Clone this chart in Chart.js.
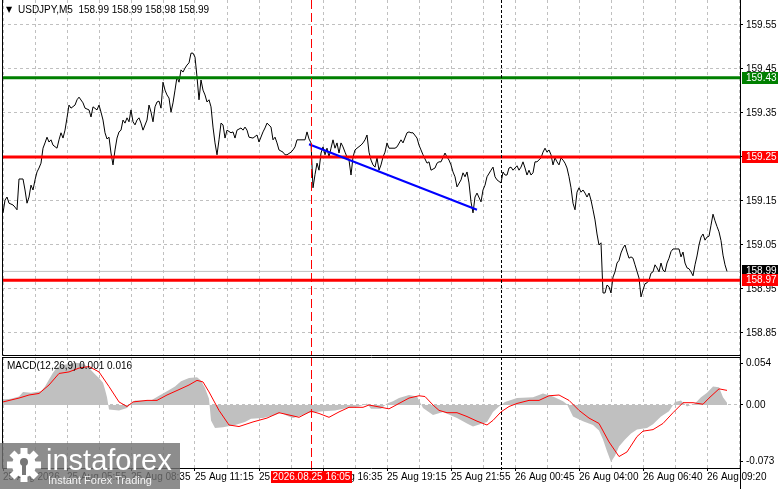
<!DOCTYPE html>
<html>
<head>
<meta charset="utf-8">
<script src="https://cdn.jsdelivr.net/npm/chart.js@4.4.1/dist/chart.umd.min.js"></script>
<style>
html, body { margin: 0; padding: 0; background: #fff; }
#wrap { position: relative; width: 781px; height: 489px; overflow: hidden; background: #fff;
  font-family: "Liberation Sans", Arial, sans-serif; }
#priceBox { position: absolute; left: 0; top: 0; width: 781px; height: 357px; }
#macdBox { position: absolute; left: 0; top: 357px; width: 781px; height: 132px; }
.lbl { position: absolute; font-size: 10px; line-height: 12px; color: #000; white-space: pre; }
#tri { left: 6px; top: 4px; font-size: 8px; font-family: "DejaVu Sans", sans-serif; }
#head { left: 18px; top: 4px; }
#macdLbl { left: 7px; top: 360px; }
#logo { position: absolute; left: 0; top: 443px; width: 180px; height: 46px; background: rgba(112,112,112,0.8); }
#logo svg { position: absolute; left: 6px; top: 4px; }
#logoName { position: absolute; left: 46px; top: 1px; font-size: 29px; line-height: 32px; color: #fff; }
#logoSub { position: absolute; left: 48px; top: 31px; font-size: 11px; line-height: 13px; color: rgba(255,255,255,0.9); }
</style>
</head>
<body>
<div id="wrap">
  <div id="priceBox"><canvas id="priceChart" width="781" height="357"></canvas></div>
  <div id="macdBox"><canvas id="macdChart" width="781" height="132"></canvas></div>
  <div class="lbl" id="tri">▼</div>
  <div class="lbl" id="head">USDJPY,M5  158.99 158.99 158.98 158.99</div>
  <div class="lbl" id="macdLbl">MACD(12,26,9) 0.001 0.016</div>
  <div id="logo">
    <svg width="36" height="36" viewBox="-18 -18 36 36">
      <g fill="#fff">
        <circle r="12"/>
        <rect x="-3.5" y="-17" width="7" height="8"/>
        <rect x="-3.5" y="-17" width="7" height="8" transform="rotate(45)"/>
        <rect x="-3.5" y="-17" width="7" height="8" transform="rotate(90)"/>
        <rect x="-3.5" y="-17" width="7" height="8" transform="rotate(135)"/>
        <rect x="-3.5" y="-17" width="7" height="8" transform="rotate(180)"/>
        <rect x="-3.5" y="-17" width="7" height="8" transform="rotate(225)"/>
        <rect x="-3.5" y="-17" width="7" height="8" transform="rotate(270)"/>
        <rect x="-3.5" y="-17" width="7" height="8" transform="rotate(315)"/>
      </g>
      <circle cy="-3" r="4" fill="#777"/>
      <rect x="-2" y="0" width="4" height="10" fill="#777"/>
    </svg>
    <div id="logoName">instaforex</div>
    <div id="logoSub">Instant Forex Trading</div>
  </div>
</div>
<script>
// time labels every 32 bars (M5, 2px per bar)
const timeLabels = ['25 Aug 2026', '25 Aug 05:55', '25 Aug 08:35', '25 Aug 11:15', '25 Aug 13:55', '25 Aug 16:35',
  '25 Aug 19:15', '25 Aug 21:55', '26 Aug 00:45', '26 Aug 04:00', '26 Aug 06:40', '26 Aug 09:20'];
const gridBars = [0, 16, 32, 48, 64, 80, 96, 112, 128, 144, 160, 176, 192, 208, 224, 240, 256, 272, 288, 304, 320, 336, 352, 368];
const priceTicks = [158.85, 158.95, 159.05, 159.15, 159.25, 159.35, 159.45, 159.55];
const macdTicks = [-0.073, 0, 0.054];
const macdTickLabels = ['-0.073', '0.00', '0.054'];

const greenLevel = 159.43;
const redLevels = [159.25, 158.97];
const lastPrice = 158.99;
const trendLine = [[153, 159.279], [237, 159.130]];
const markerBars = [154, 249];
const markerDate = '2026.08.25 16:05';

// [bar, close]
const closes = [
  [0,159.123],[1,159.152],[2,159.159],[3,159.145],[5,159.141],[6,159.136],[7,159.130],[8,159.200],[10,159.200],
  [11,159.175],[12,159.145],[13,159.159],[14,159.186],[15,159.175],[16,159.198],[17,159.216],[18,159.225],[19,159.236],
  [20,159.270],[21,159.282],[22,159.295],[23,159.284],[24,159.289],[25,159.277],[27,159.270],[28,159.289],[29,159.305],
  [30,159.293],[31,159.311],[32,159.339],[33,159.368],[34,159.361],[36,159.368],[37,159.380],[38,159.386],[40,159.373],
  [41,159.361],[42,159.359],[43,159.357],[44,159.341],[45,159.364],[47,159.357],[48,159.368],[49,159.352],[50,159.334],
  [51,159.305],[52,159.291],[53,159.295],[54,159.259],[55,159.232],[56,159.266],[57,159.293],[58,159.307],[59,159.311],
  [60,159.334],[61,159.327],[62,159.339],[63,159.330],[64,159.357],[65,159.330],[66,159.323],[67,159.334],[68,159.339],
  [69,159.327],[70,159.311],[72,159.334],[73,159.368],[74,159.352],[75,159.330],[76,159.364],[77,159.375],[78,159.377],
  [79,159.361],[80,159.420],[81,159.402],[82,159.391],[83,159.384],[84,159.352],[85,159.373],[86,159.402],[87,159.432],
  [88,159.420],[89,159.448],[90,159.443],[91,159.452],[92,159.459],[93,159.464],[94,159.486],[95,159.486],[96,159.477],
  [97,159.432],[98,159.380],[99,159.425],[100,159.402],[101,159.391],[102,159.375],[103,159.380],[104,159.364],[105,159.318],
  [106,159.282],[107,159.255],[108,159.289],[109,159.327],[110,159.323],[111,159.293],[112,159.311],[114,159.305],[115,159.307],
  [116,159.293],[117,159.311],[119,159.316],[120,159.311],[121,159.318],[122,159.311],[123,159.295],[125,159.293],[127,159.300],
  [128,159.284],[130,159.307],[131,159.316],[132,159.327],[134,159.318],[135,159.289],[136,159.295],[137,159.282],[138,159.266],
  [140,159.261],[141,159.255],[142,159.255],[144,159.261],[145,159.266],[146,159.273],[147,159.289],[149,159.289],[151,159.289],
  [152,159.307],[153,159.291],[154,159.282],[155,159.180],[156,159.210],[157,159.236],[158,159.220],[159,159.259],[160,159.273],
  [161,159.255],[162,159.270],[163,159.250],[164,159.270],[165,159.289],[166,159.270],[167,159.282],[168,159.259],[169,159.282],
  [170,159.273],[171,159.261],[172,159.250],[173,159.243],[174,159.209],[175,159.250],[176,159.266],[177,159.270],[179,159.277],
  [180,159.282],[181,159.289],[182,159.300],[183,159.261],[184,159.243],[185,159.232],[186,159.227],[187,159.248],[188,159.220],
  [189,159.232],[190,159.250],[191,159.261],[192,159.282],[193,159.270],[194,159.270],[196,159.270],[197,159.273],[199,159.289],
  [200,159.282],[202,159.305],[203,159.307],[204,159.305],[205,159.305],[207,159.293],[208,159.277],[209,159.266],[210,159.255],
  [212,159.236],[213,159.239],[214,159.220],[216,159.225],[217,159.236],[218,159.239],[219,159.239],[221,159.259],[222,159.250],
  [223,159.243],[224,159.232],[225,159.216],[226,159.205],[227,159.182],[229,159.198],[230,159.214],[231,159.205],[232,159.216],
  [233,159.191],[234,159.148],[235,159.123],[236,159.159],[237,159.168],[239,159.148],[240,159.175],[241,159.186],[242,159.205],
  [244,159.220],[245,159.227],[246,159.205],[247,159.198],[249,159.191],[250,159.216],[251,159.209],[252,159.209],[253,159.225],
  [254,159.227],[255,159.220],[257,159.230],[258,159.220],[259,159.227],[260,159.239],[261,159.225],[262,159.209],[263,159.220],
  [264,159.209],[265,159.214],[266,159.239],[267,159.239],[269,159.248],[270,159.261],[271,159.270],[272,159.261],[273,159.266],
  [274,159.255],[275,159.232],[276,159.248],[277,159.239],[278,159.232],[279,159.248],[280,159.243],[281,159.236],[282,159.225],
  [283,159.205],[284,159.180],[285,159.145],[286,159.130],[287,159.170],[288,159.180],[289,159.170],[290,159.175],[291,159.168],
  [292,159.159],[293,159.168],[294,159.152],[295,159.130],[296,159.107],[297,159.075],[298,159.050],[299,159.055],[300,158.941],
  [301,158.941],[302,158.959],[303,158.955],[304,158.941],[305,158.977],[306,158.989],[307,159.009],[308,159.015],[309,159.032],
  [310,159.043],[311,159.050],[312,159.034],[313,159.020],[314,159.023],[315,159.020],[316,159.005],[317,158.990],[318,158.975],
  [319,158.932],[320,158.948],[321,158.962],[322,158.964],[323,158.970],[324,158.986],[325,158.989],[326,159.005],[327,158.998],
  [328,158.989],[329,159.009],[330,158.993],[331,158.989],[332,159.009],[333,159.020],[334,159.035],[335,159.041],[336,159.041],
  [337,159.041],[338,159.041],[339,159.023],[340,159.034],[341,159.009],[342,158.998],[343,158.996],[344,158.989],[345,158.980],
  [346,159.005],[347,159.025],[348,159.050],[349,159.068],[350,159.075],[351,159.061],[352,159.068],[353,159.070],[354,159.095],
  [355,159.120],[356,159.105],[357,159.092],[358,159.080],[359,159.060],[360,159.027],[361,159.005],[362,158.990]
];

// MACD histogram, [bar, value]
const macdHist = [
  [0,0.007],[4,0.008],[8,0.011],[10,0.017],[14,0.016],[19,0.018],[21,0.024],[23,0.033],[25,0.042],[27,0.049],
  [30,0.052],[36,0.055],[40,0.054],[43,0.048],[46,0.040],[48,0.035],[50,0.029],[51,0.020],[52,0.010],[53,-0.006],
  [58,-0.007],[62,-0.004],[64,0.002],[66,0.006],[74,0.006],[78,0.012],[82,0.018],[86,0.024],[89,0.031],[93,0.035],
  [97,0.036],[99,0.032],[101,0.022],[103,0.008],[104,-0.020],[106,-0.030],[110,-0.029],[116,-0.026],[121,-0.022],
  [124,-0.018],[130,-0.017],[136,-0.013],[139,-0.010],[142,-0.014],[145,-0.017],[150,-0.013],[153,-0.010],[160,-0.008],
  [166,-0.007],[172,-0.004],[178,-0.002],[182,0.002],[184,-0.005],[189,-0.005],[192,0.002],
  [195,0.005],[198,0.009],[203,0.013],[207,0.011],[210,-0.004],[215,-0.013],[220,-0.009],[227,-0.017],[232,-0.024],
  [235,-0.028],[242,-0.022],[245,-0.009],[248,-0.002],[251,0.004],[257,0.009],[265,0.010],[270,0.015],[275,0.011],
  [280,0.005],[282,0.001],[285,-0.015],[290,-0.021],[295,-0.026],[298,-0.033],[300,-0.045],[302,-0.060],[304,-0.074],
  [306,-0.066],[308,-0.054],[311,-0.045],[314,-0.037],[317,-0.032],[322,-0.030],[325,-0.025],[329,-0.015],[333,-0.008],
  [336,0.004],[339,0.006],[342,-0.002],[346,0.002],[349,0.010],[352,0.016],[355,0.024],[358,0.023],[360,0.010],[362,0.003]
];

// MACD signal line, [bar, value]
const macdSignal = [
  [0,0.004],[8,0.009],[13,0.013],[18,0.015],[23,0.026],[28,0.041],[33,0.043],[38,0.048],[43,0.050],[48,0.043],
  [53,0.024],[58,0.004],[62,-0.002],[65,0.004],[72,0.006],[77,0.006],[82,0.013],[88,0.020],[93,0.026],[97,0.032],
  [100,0.030],[103,0.017],[108,-0.007],[113,-0.026],[118,-0.028],[125,-0.022],[132,-0.017],[138,-0.010],[143,-0.013],
  [148,-0.016],[154,-0.008],[158,-0.011],[163,-0.016],[168,-0.009],[173,-0.003],[180,-0.003],[183,0.000],[193,-0.005],
  [198,0.002],[203,0.009],[208,0.012],[211,0.011],[215,0.000],[218,-0.007],[222,-0.010],[227,-0.010],[232,-0.015],
  [237,-0.021],[242,-0.026],[245,-0.020],[249,-0.009],[253,-0.002],[257,0.002],[263,0.006],[268,0.006],[273,0.012],
  [278,0.013],[283,0.006],[288,-0.007],[293,-0.017],[298,-0.024],[303,-0.048],[308,-0.067],[312,-0.061],[317,-0.041],
  [320,-0.034],[325,-0.032],[330,-0.024],[335,-0.010],[340,0.003],[345,0.003],[350,0.001],[353,0.009],[358,0.021],[362,0.019]
];

const xMin = -0.5, xMax = 368.5;
const pts = arr => arr.map(([b, v]) => ({ x: b, y: v }));
const flat = v => [{ x: xMin, y: v }, { x: xMax, y: v }];

Chart.defaults.font.family = '"Liberation Sans", Arial, sans-serif';
Chart.defaults.font.size = 10;
Chart.defaults.color = '#000';

function xAxis(showLabels) {
  return {
    type: 'linear', min: xMin, max: xMax,
    afterBuildTicks: s => { s.ticks = gridBars.map(v => ({ value: v })); },
    afterFit: s => { s.height = showLabels ? 21 : 0; s.paddingLeft = 0; s.paddingRight = 0; },
    grid: {
      color: '#c0c0c0', lineWidth: 1, drawTicks: showLabels, tickLength: 3, tickBorderDash: [],
      tickColor: c => (c.tick && c.tick.value % 32 === 0) ? '#000' : 'rgba(0,0,0,0)'
    },
    border: { display: false, dash: [3, 3] },
    ticks: {
      display: showLabels, autoSkip: false, maxRotation: 0, minRotation: 0, align: 'start', padding: 0,
      callback: v => v % 32 === 0 ? timeLabels[v / 32] : ''
    }
  };
}

// frame lines and the two vertical marker lines
const framePlugin = {
  id: 'frame',
  afterDatasetsDraw(chart, args, opts) {
    const { ctx, chartArea: a, scales } = chart;
    ctx.save();
    ctx.lineWidth = 1;
    const styles = [{ c: '#ff0000', d: [9, 4] }, { c: '#000', d: [3, 2] }];
    markerBars.forEach((b, i) => {
      const x = Math.round(scales.x.getPixelForValue(b)) + 0.5;
      ctx.strokeStyle = styles[i].c;
      ctx.setLineDash(styles[i].d);
      ctx.beginPath();
      ctx.moveTo(x, a.top);
      ctx.lineTo(x, a.bottom + (opts.extend || 0));
      ctx.stroke();
    });
    ctx.restore();
  },
  afterDraw(chart, args, opts) {
    const { ctx, chartArea: a } = chart;
    const l = Math.floor(a.left) + 0.5, r = Math.floor(a.right) + 0.5;
    const t = Math.floor(a.top) + 0.5, b = Math.floor(a.bottom) + 0.5;
    ctx.save();
    ctx.strokeStyle = '#000';
    ctx.lineWidth = 1;
    ctx.setLineDash([]);
    ctx.beginPath();
    ctx.moveTo(l, 0); ctx.lineTo(l, b);
    ctx.moveTo(r, 0); ctx.lineTo(r, chart.height);
    ctx.moveTo(l, b); ctx.lineTo(r, b);
    if (opts.top) { ctx.moveTo(l, t); ctx.lineTo(r, t); }
    ctx.stroke();
    ctx.restore();
  }
};

// coloured price tags on the right axis
const tagPlugin = {
  id: 'tags',
  afterDraw(chart) {
    const { ctx, scales } = chart;
    const tags = [
      { v: greenLevel, bg: '#008000' },
      { v: redLevels[0], bg: '#ff0000' },
      { v: lastPrice, bg: '#000000' },
      { v: redLevels[1], bg: '#ff0000' }
    ];
    ctx.save();
    ctx.font = '10px "Liberation Sans", Arial, sans-serif';
    ctx.textBaseline = 'middle';
    tags.forEach(t => {
      const y = Math.round(scales.y.getPixelForValue(t.v));
      ctx.fillStyle = t.bg;
      ctx.fillRect(742, y - 6, 36, 12);
      ctx.fillStyle = '#fff';
      ctx.fillText(t.v.toFixed(2), 746, y + 0.5);
    });
    ctx.restore();
  }
};

// red date tag under the red marker line
const dateTagPlugin = {
  id: 'dateTag',
  afterDraw(chart) {
    const { ctx, chartArea: a, scales } = chart;
    const x = Math.round(scales.x.getPixelForValue(markerBars[0]));
    const y = a.bottom + 9;
    ctx.save();
    ctx.fillStyle = '#ff0000';
    ctx.fillRect(x - 40, y - 6, 81, 12);
    ctx.fillStyle = '#fff';
    ctx.font = '10px "Liberation Sans", Arial, sans-serif';
    ctx.textAlign = 'center';
    ctx.textBaseline = 'middle';
    ctx.fillText(markerDate, x + 0.5, y + 0.5);
    ctx.restore();
  }
};

const lineDs = (data, color, width) => ({
  type: 'line', data, borderColor: color, borderWidth: width, pointRadius: 0, tension: 0, fill: false
});

new Chart(document.getElementById('priceChart'), {
  type: 'line',
  data: {
    datasets: [
      lineDs(pts(trendLine), '#0000ff', 2),
      lineDs(flat(greenLevel), '#008000', 3),
      lineDs(flat(redLevels[0]), '#ff0000', 3),
      lineDs(flat(redLevels[1]), '#ff0000', 3),
      lineDs(pts(closes), '#000000', 1),
      lineDs(flat(lastPrice), '#c0c0c0', 1)
    ]
  },
  options: {
    responsive: false, animation: false, devicePixelRatio: 1,
    layout: { padding: { left: 2, right: 0, top: 0, bottom: 2 } },
    plugins: { legend: { display: false }, tooltip: { enabled: false }, frame: { top: false } },
    scales: {
      x: xAxis(false),
      y: {
        position: 'right', min: 158.80, max: 159.6068,
        afterBuildTicks: s => { s.ticks = priceTicks.map(v => ({ value: v })); },
        afterFit: s => { s.width = 41; s.paddingTop = 0; s.paddingBottom = 0; },
        grid: { color: '#c0c0c0', tickColor: '#000', tickLength: 3, tickBorderDash: [] },
        border: { display: false, dash: [3, 3] },
        ticks: { padding: 3, callback: v => v.toFixed(2) }
      }
    }
  },
  plugins: [framePlugin, tagPlugin]
});

new Chart(document.getElementById('macdChart'), {
  type: 'line',
  data: {
    datasets: [
      lineDs(pts(macdSignal), '#ff0000', 1),
      {
        type: 'line', data: pts(macdHist), borderWidth: 0, borderColor: 'rgba(0,0,0,0)',
        backgroundColor: '#c0c0c0', pointRadius: 0, tension: 0, fill: 'origin'
      }
    ]
  },
  options: {
    responsive: false, animation: false, devicePixelRatio: 1,
    layout: { padding: { left: 2, right: 0, top: 0, bottom: 0 } },
    plugins: { legend: { display: false }, tooltip: { enabled: false }, frame: { top: true, extend: 2 } },
    scales: {
      x: xAxis(true),
      y: {
        position: 'right', min: -0.0819, max: 0.0624,
        afterBuildTicks: s => { s.ticks = macdTicks.map(v => ({ value: v })); },
        afterFit: s => { s.width = 41; s.paddingTop = 0; s.paddingBottom = 0; },
        grid: {
          color: c => (c.tick && c.tick.value === 0) ? '#c0c0c0' : 'rgba(0,0,0,0)',
          tickColor: '#000', tickLength: 3, tickBorderDash: []
        },
        border: { display: false, dash: [3, 3] },
        ticks: { padding: 3, callback: (v, i) => macdTickLabels[i] }
      }
    }
  },
  plugins: [framePlugin, dateTagPlugin]
});
</script>
</body>
</html>
